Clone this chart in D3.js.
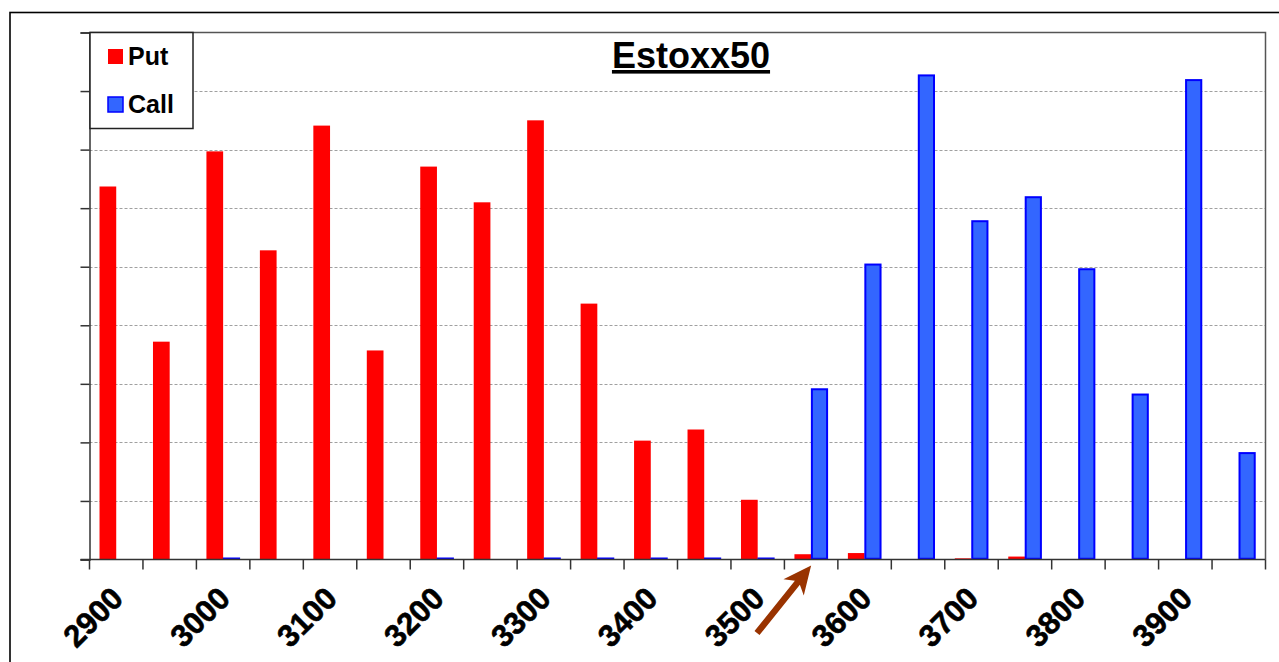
<!DOCTYPE html>
<html><head><meta charset="utf-8">
<script src="https://cdn.jsdelivr.net/npm/d3@7"></script>
<style>body{margin:0;background:#fff}svg{display:block}</style>
</head><body>
<svg id="c" width="1279" height="662"></svg>
<script>
const strikes = ["2900","2950","3000","3050","3100","3150","3200","3250","3300","3350","3400","3450","3500","3550","3600","3650","3700","3750","3800","3850","3900","3950"];
const tickLabels = ["2900","3000","3100","3200","3300","3400","3500","3600","3700","3800","3900"];
const putValues  = [6.37,3.72,6.97,5.28,7.41,3.57,6.71,6.10,7.50,4.37,2.03,2.22,1.02,0.09,0.11,0,0.02,0.05,0,0,0,0];
const callValues = [0,0,0.03,0,0,0,0.03,0,0.03,0.03,0.03,0.03,0.03,2.92,5.05,8.28,5.79,6.20,4.97,2.83,8.20,1.83];
const seriesNames = ["Put","Call"];
const title = "Estoxx50";
const arrowStrike = "3550";

const svg = d3.select("#c");
const L = 89.5, R = 1265.5, T = 32.5, B = 559.5;
const x = d3.scaleBand().domain(strikes).range([L, R]).paddingInner(0).paddingOuter(0);
const x1 = d3.scaleBand().domain(seriesNames).range([0, x.bandwidth()]).paddingInner(0).paddingOuter(0.6);
const y = d3.scaleLinear().domain([0, 9]).range([B, T]);

// outer frame
svg.append("rect").attr("x",10).attr("y",12.5).attr("width",1300).attr("height",700)
  .attr("fill","none").attr("stroke","#000").attr("stroke-width",1.6);

// gridlines
svg.append("g").selectAll("line").data(d3.range(1,9)).join("line")
  .attr("x1",L).attr("x2",R).attr("y1",d=>Math.round(y(d))+0.5).attr("y2",d=>Math.round(y(d))+0.5)
  .attr("stroke","#a0a0a0").attr("stroke-width",1).attr("stroke-dasharray","3,2");

// plot border top/right
svg.append("path").attr("d",`M${L},${T}H${R}V${B}`).attr("fill","none").attr("stroke","#555").attr("stroke-width",1.5);

// bars
const putData = strikes.map((s,i)=>({s, v:putValues[i]})).filter(d=>d.v>0);
const callData = strikes.map((s,i)=>({s, v:callValues[i]})).filter(d=>d.v>0);
const g = svg.append("g");
g.selectAll("rect.put").data(putData).join("rect").attr("class","put")
  .attr("x",d=>x(d.s)+x1("Put")).attr("width",x1.bandwidth())
  .attr("y",d=>y(d.v)).attr("height",d=>B-y(d.v)).attr("fill","#ff0000");
g.selectAll("rect.call").data(callData).join("rect").attr("class","call")
  .attr("x",d=>x(d.s)+x1("Call")+0.75).attr("width",x1.bandwidth()-1.5)
  .attr("y",d=>y(d.v)+0.75).attr("height",d=>Math.max(0.5,B-y(d.v)-1.5)).attr("fill","#3366ff")
  .attr("stroke","#0000ff").attr("stroke-width",2);

// y axis
const yAxis = d3.axisLeft(y).ticks(9).tickSize(9).tickFormat("");
const ya = svg.append("g").attr("transform",`translate(${L},0)`).call(yAxis);
ya.select(".domain").attr("stroke","#333").attr("stroke-width",1.5);
ya.selectAll(".tick line").attr("stroke","#333").attr("stroke-width",1.5);

// x axis
const xa = svg.append("g").attr("transform",`translate(0,${B})`);
xa.append("line").attr("x1",L-9).attr("x2",R).attr("y1",0).attr("y2",0).attr("stroke","#333").attr("stroke-width",1.5);
xa.selectAll("line.t").data(strikes.concat(["end"])).join("line").attr("class","t")
  .attr("x1",(d,i)=>i<strikes.length?x(d):R).attr("x2",(d,i)=>i<strikes.length?x(d):R)
  .attr("y1",0).attr("y2",10).attr("stroke","#333").attr("stroke-width",1.5);
xa.selectAll("text").data(tickLabels).join("text")
  .attr("transform",d=>`translate(${x(d)+x.bandwidth()/2-7},${25}) rotate(-45)`)
  .attr("text-anchor","end").attr("dy","0.72em")
  .attr("font-family","Liberation Sans, Arial, sans-serif").attr("font-weight","bold")
  .attr("font-size",31).attr("fill","#000").attr("stroke","#000").attr("stroke-width",0.6)
  .text(d=>d);

// title
svg.append("text").attr("x",691).attr("y",68).attr("text-anchor","middle")
  .attr("font-family","Liberation Sans, Arial, sans-serif").attr("font-weight","bold")
  .attr("font-size",36).attr("text-decoration","underline").text(title);

// legend
const lg = svg.append("g");
lg.append("rect").attr("x",L+0.5).attr("y",T).attr("width",103).attr("height",96)
  .attr("fill","#fff").attr("stroke","#222").attr("stroke-width",1.5);
const colors = {Put:["#ff0000","#ff0000"],Call:["#3366ff","#0000ff"]};
seriesNames.forEach((s,i)=>{
  const yy = 49 + i*48;
  lg.append("rect").attr("x",108).attr("y",yy).attr("width",15).attr("height",15)
    .attr("fill",colors[s][0]).attr("stroke",colors[s][1]).attr("stroke-width",s==="Call"?1.5:0);
  lg.append("text").attr("x",128).attr("y",yy+16).attr("font-family","Liberation Sans, Arial, sans-serif")
    .attr("font-weight","bold").attr("font-size",25).attr("fill","#000").text(s);
});

// arrow pointing to the 3550 call bar base
const tipX = x(arrowStrike)+x1("Call"), tipY = B+6;
const ang = Math.atan2(tipY-633, tipX-757);
const len = Math.hypot(tipX-757, tipY-633);
const ag = svg.append("g").attr("transform",`translate(${tipX},${tipY}) rotate(${ang*180/Math.PI})`);
ag.append("path").attr("d",`M${-len},-3.2 L-22,-3.2 L-28,-13 L0,0 L-28,13 L-22,3.2 L${-len},3.2 Z`)
  .attr("fill","#993300");
</script>
</body></html>
